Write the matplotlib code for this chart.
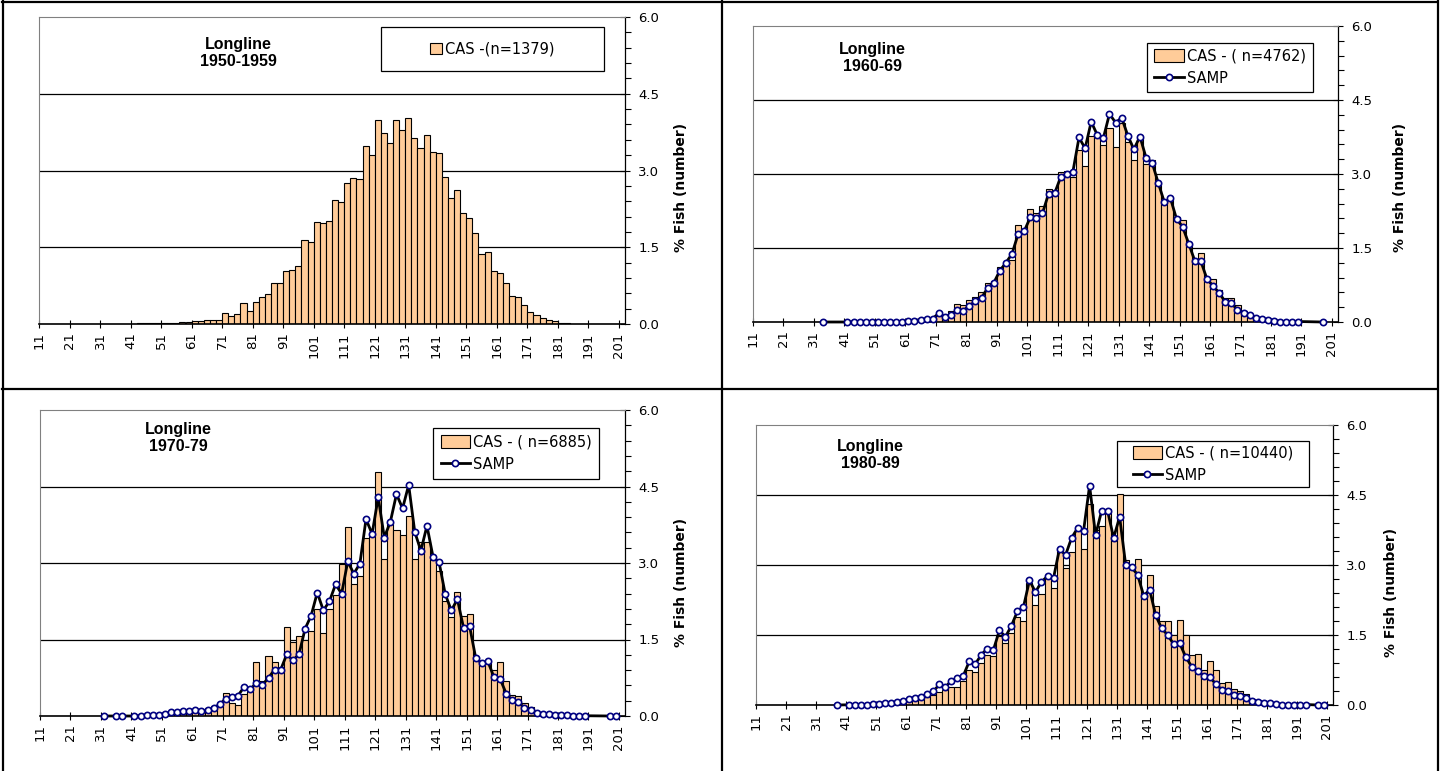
import numpy as np
import matplotlib
matplotlib.use("Agg")
import matplotlib.pyplot as plt
from matplotlib.patches import Patch, Rectangle
from matplotlib.lines import Line2D
from matplotlib.ticker import MultipleLocator

# length classes (cm), 2 cm bins from 11 to 201
classes = list(range(11, 203, 2))
xtick_labels = list(range(11, 202, 10))
ytick_values = [0.0, 1.5, 3.0, 4.5, 6.0]

titles = ["Longline\n1950-1959", "Longline\n1960-69", "Longline\n1970-79", "Longline\n1980-89"]
cas_labels = ["CAS -(n=1379)", "CAS - ( n=4762)", "CAS - ( n=6885)", "CAS - ( n=10440)"]
samp_label = "SAMP"

# CAS bars, first value is class 41
cas_start = 41
cas_1950 = [0.005, 0.01, 0.01, 0.015, 0.02, 0.02, 0.02, 0.02, 0.03, 0.03,
            0.05, 0.06, 0.08, 0.08, 0.08,
            0.22, 0.16, 0.20, 0.42, 0.26,
            0.43, 0.52, 0.59, 0.80, 0.80,
            1.04, 1.06, 1.13, 1.64, 1.60,
            1.99, 1.98, 2.01, 2.43, 2.39,
            2.75, 2.86, 2.84, 3.48, 3.31,
            3.99, 3.74, 3.54, 3.99, 3.80,
            4.02, 3.64, 3.44, 3.69, 3.36,
            3.35, 2.87, 2.46, 2.61, 2.17,
            2.07, 1.78, 1.36, 1.41, 1.04,
            1.00, 0.80, 0.55, 0.52, 0.37,
            0.23, 0.18, 0.12, 0.07, 0.05,
            0.02, 0.01, 0.005]
cas_1960 = [0.005, 0.005, 0.01, 0.01, 0.01, 0.01, 0.01, 0.02, 0.02, 0.02,
            0.03, 0.03, 0.04, 0.05, 0.06,
            0.13, 0.15, 0.22, 0.37, 0.35,
            0.45, 0.51, 0.61, 0.79, 0.83,
            1.12, 1.15, 1.26, 1.96, 1.86,
            2.30, 2.20, 2.36, 2.70, 2.67,
            3.05, 3.06, 2.94, 3.48, 3.16,
            3.77, 3.75, 3.58, 3.94, 3.55,
            4.04, 3.65, 3.29, 3.72, 3.20,
            3.29, 2.84, 2.40, 2.50, 2.13,
            2.07, 1.59, 1.28, 1.39, 0.88,
            0.88, 0.64, 0.49, 0.49, 0.34,
            0.23, 0.15, 0.09, 0.05, 0.03,
            0.02, 0.01, 0.01, 0.005]
cas_1970 = [0.0, 0.0, 0.0, 0.005, 0.01,
            0.02, 0.03, 0.05, 0.12, 0.08,
            0.08, 0.10, 0.15, 0.20, 0.20,
            0.46, 0.25, 0.22, 0.44, 0.50,
            1.05, 0.68, 1.17, 1.06, 0.97,
            1.75, 1.45, 1.56, 1.50, 1.67,
            2.09, 1.63, 2.10, 2.37, 2.99,
            3.70, 2.58, 2.75, 3.50, 3.54,
            4.78, 3.07, 3.80, 3.65, 3.54,
            3.92, 3.07, 3.41, 3.41, 3.05,
            2.84, 2.25, 1.94, 2.43, 1.96,
            2.00, 1.16, 1.07, 1.07, 0.91,
            1.05, 0.68, 0.42, 0.40, 0.25,
            0.18, 0.07, 0.03, 0.02, 0.01,
            0.01]
cas_1980 = [0.01, 0.01, 0.01, 0.02, 0.02,
            0.02, 0.03, 0.03, 0.05, 0.07,
            0.11, 0.14, 0.16, 0.18, 0.21,
            0.27, 0.32, 0.38, 0.39, 0.51,
            0.75, 0.71, 0.89, 1.07, 1.04,
            1.47, 1.32, 1.54, 1.88, 1.81,
            2.61, 2.15, 2.38, 2.72, 2.50,
            3.36, 2.93, 3.27, 3.77, 3.34,
            4.30, 3.74, 3.83, 4.20, 3.51,
            4.53, 3.11, 2.98, 3.13, 2.40,
            2.78, 2.13, 1.79, 1.80, 1.50,
            1.83, 1.50, 1.07, 1.10, 0.75,
            0.95, 0.75, 0.48, 0.50, 0.34,
            0.29, 0.23, 0.13, 0.11, 0.07,
            0.04, 0.03, 0.02, 0.01, 0.01]

# SAMP points (class, value)
samp_1960_cls = [33] + list(range(41, 191, 2)) + [197]
samp_1960 = [0.0,
             0.0, 0.0, 0.0, 0.005, 0.005, 0.005, 0.005, 0.01, 0.01, 0.01,
             0.02, 0.03, 0.05, 0.06, 0.07,
             0.18, 0.10, 0.15, 0.24, 0.23,
             0.33, 0.42, 0.49, 0.69, 0.79,
             1.04, 1.20, 1.38, 1.78, 1.84,
             2.12, 2.10, 2.20, 2.60, 2.61,
             2.94, 3.01, 3.05, 3.74, 3.52,
             4.06, 3.79, 3.73, 4.22, 4.04,
             4.14, 3.78, 3.50, 3.76, 3.33,
             3.23, 2.82, 2.43, 2.51, 2.09,
             1.93, 1.59, 1.24, 1.23, 0.87,
             0.73, 0.59, 0.41, 0.38, 0.25,
             0.18, 0.14, 0.09, 0.06, 0.04,
             0.03, 0.01, 0.01, 0.01, 0.01,
             0.0]
samp_1970_cls = [31, 35, 37] + list(range(41, 191, 2)) + [197, 199]
samp_1970 = [0.0, 0.0, 0.0,
             0.0, 0.005, 0.01, 0.01, 0.02,
             0.04, 0.07, 0.07, 0.09, 0.09,
             0.12, 0.10, 0.11, 0.16, 0.23,
             0.34, 0.37, 0.40, 0.57, 0.52,
             0.65, 0.61, 0.75, 0.91, 0.91,
             1.21, 1.09, 1.21, 1.71, 1.97,
             2.42, 2.07, 2.25, 2.58, 2.40,
             3.03, 2.79, 2.99, 3.86, 3.57,
             4.29, 3.50, 3.81, 4.35, 4.07,
             4.53, 3.61, 3.24, 3.73, 3.12,
             3.01, 2.39, 2.07, 2.29, 1.73,
             1.76, 1.14, 1.03, 1.07, 0.76,
             0.73, 0.44, 0.31, 0.27, 0.16,
             0.12, 0.06, 0.04, 0.03, 0.02,
             0.01, 0.01, 0.005, 0.005, 0.005,
             0.0, 0.0]
samp_1980_cls = [37] + list(range(41, 195, 2)) + [197, 199]
samp_1980 = [0.0,
             0.005, 0.01, 0.01, 0.01, 0.02,
             0.03, 0.04, 0.05, 0.06, 0.08,
             0.13, 0.16, 0.18, 0.23, 0.29,
             0.44, 0.38, 0.52, 0.57, 0.63,
             0.94, 0.88, 1.08, 1.21, 1.18,
             1.60, 1.46, 1.70, 2.01, 2.10,
             2.67, 2.42, 2.64, 2.76, 2.72,
             3.35, 3.21, 3.58, 3.79, 3.73,
             4.70, 3.64, 4.16, 4.16, 3.58,
             4.03, 3.01, 2.95, 2.79, 2.34,
             2.47, 1.92, 1.64, 1.50, 1.30,
             1.32, 1.03, 0.82, 0.73, 0.62,
             0.60, 0.45, 0.33, 0.29, 0.21,
             0.20, 0.14, 0.09, 0.07, 0.05,
             0.04, 0.02, 0.01, 0.01, 0.01,
             0.01, 0.01,
             0.0, 0.0]

W, H = 1448, 771


def fx(px):
    return px / W


def fy(py):
    return 1 - py / H


def full_series(vals):
    out = np.zeros(len(classes))
    i0 = classes.index(cas_start)
    out[i0:i0 + len(vals)] = vals
    return out


# pixel boxes: left, top, right, bottom
panels = [
    dict(box=(39, 17, 625, 324), cas=cas_1950, samp=None,
         title_xy=(238, 53), leg=(381, 27, 604, 71), ylab=(681, 187)),
    dict(box=(753, 26, 1338, 322), cas=cas_1960, samp=(samp_1960_cls, samp_1960),
         title_xy=(872, 58), leg=(1147, 43, 1313, 92), ylab=(1400, 187)),
    dict(box=(40, 410, 625, 716), cas=cas_1970, samp=(samp_1970_cls, samp_1970),
         title_xy=(178, 438), leg=(433, 428, 599, 479), ylab=(681, 582)),
    dict(box=(756, 425, 1333, 705), cas=cas_1980, samp=(samp_1980_cls, samp_1980),
         title_xy=(870, 455), leg=(1117, 441, 1309, 487), ylab=(1391, 592)),
]

fig = plt.figure(figsize=(W / 100, H / 100), dpi=100)
fig.patch.set_facecolor("white")

bar_color = "#FFCC99"

for k, p in enumerate(panels):
    l, t, r, b = p["box"]
    ax = fig.add_axes([fx(l), fy(b), fx(r) - fx(l), fy(t) - fy(b)])
    ax.set_xlim(11, 203)
    ax.set_ylim(0, 6)

    ax.bar(classes, full_series(p["cas"]), width=2, align="edge",
           color=bar_color, edgecolor="black", linewidth=0.8, zorder=2)
    for g in (1.5, 3.0, 4.5):
        ax.axhline(g, color="black", lw=0.9, zorder=1)

    handles = [Patch(facecolor=bar_color, edgecolor="black", linewidth=0.8)]
    labels = [cas_labels[k]]
    if p["samp"] is not None:
        cls, vals = p["samp"]
        xs = np.array(cls) + 1
        ax.plot(xs, vals, color="black", lw=2, marker="o", ms=4.5,
                mfc="white", mec="#000080", mew=1.2, zorder=3, clip_on=False)
        handles.append(Line2D([], [], color="black", lw=2, marker="o", ms=4.5,
                              mfc="white", mec="#000080", mew=1.2))
        labels.append(samp_label)

    # axes styling
    ax.yaxis.tick_right()
    ax.set_yticks(ytick_values)
    ax.set_yticklabels(["%.1f" % v for v in ytick_values])
    ax.yaxis.set_minor_locator(MultipleLocator(0.3))
    ax.tick_params(axis="y", which="major", direction="inout", length=7,
                   width=0.8, labelsize=9.5, pad=6, colors="black")
    ax.tick_params(axis="y", which="minor", direction="out", length=4, width=0.8)
    ax.set_xticks(xtick_labels)
    ax.set_xticklabels([str(v) for v in xtick_labels], rotation=90)
    ax.tick_params(axis="x", direction="inout", length=6, width=0.8,
                   labelsize=9.5, pad=3)
    for side in ("left", "top"):
        ax.spines[side].set_color("#808080")
        ax.spines[side].set_linewidth(0.8)
    ax.spines["right"].set_color("black")
    ax.spines["right"].set_linewidth(0.9)
    ax.spines["bottom"].set_color("black")
    ax.spines["bottom"].set_linewidth(1.2)

    # title
    tx, ty = p["title_xy"]
    fig.text(fx(tx), fy(ty), titles[k], ha="center", va="center",
             fontsize=11.5, fontweight="bold", family="Liberation Sans",
             linespacing=1.15)

    # y label
    yx, yy = p["ylab"]
    fig.text(fx(yx), fy(yy), "% Fish (number)", rotation=90, ha="center",
             va="center", fontsize=10, fontweight="bold")

    # legend inside a fixed box
    ll, lt, lr, lb = p["leg"]
    fig.add_artist(Rectangle((fx(ll), fy(lb)), fx(lr) - fx(ll), fy(lt) - fy(lb),
                             transform=fig.transFigure, fill=True,
                             facecolor="white", edgecolor="black", lw=0.9,
                             zorder=5))
    if k == 0:
        hl, hh = 0.8, 0.8
    else:
        hl, hh = 2.0, 1.0
    leg = fig.legend(handles, labels, loc="center",
                     bbox_to_anchor=(fx((ll + lr) / 2), fy((lt + lb) / 2)),
                     bbox_transform=fig.transFigure, frameon=False,
                     fontsize=10.5, handlelength=hl, handleheight=hh,
                     handletextpad=0.2, borderaxespad=0, labelspacing=0.5)
    leg.set_zorder(6)

# outer frame and dividers
frame_kw = dict(color="black", lw=1.6, transform=fig.transFigure)
fig.add_artist(Line2D([fx(2), fx(1437)], [fy(1.5), fy(1.5)], **frame_kw))
fig.add_artist(Line2D([fx(2.5), fx(2.5)], [fy(0), fy(771)], **frame_kw))
fig.add_artist(Line2D([fx(1437.5), fx(1437.5)], [fy(0), fy(771)], **frame_kw))
fig.add_artist(Line2D([fx(722), fx(722)], [fy(0), fy(771)], **frame_kw))
fig.add_artist(Line2D([fx(2), fx(1437)], [fy(389), fy(389)], **frame_kw))

fig.savefig("out.png", dpi=100, facecolor="white")
